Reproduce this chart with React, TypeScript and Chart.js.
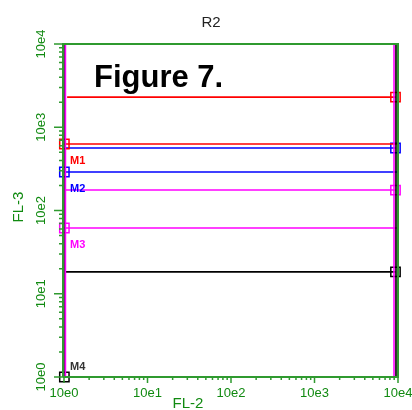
import React, { useEffect, useRef } from "react";
import { Chart, registerables } from "chart.js";

Chart.register(...registerables);

// Axis decades (FL-2 / FL-3 log scales)
const decadeValues = [1, 10, 100, 1000, 10000];
const tickLabels = ["10e0", "10e1", "10e2", "10e3", "10e4"];

// Markers (FL-3 ranges)
const markerNames = ["M1", "M2", "M3", "M4"];
const markerColors = ["#ff0000", "#0000ff", "#ff00ff", "#000000"];
const markerLabelColors = ["#ff0000", "#0000ff", "#ff00ff", "#333333"];
const markerUpper = [2300, 563, 176, 18.3];
const markerLower = [629, 290, 61.6, 1];

// FL-2 extents of the gate lines
const upperLineFrom = [1.09, 1.05, 1.05, 1.05];
const upperLineTo = [9330, 9330, 9330, 9330];
const lowerLineFrom = [1.01, 1.01, 1.01, 1.01];
const lowerLineTo = [9700, 9700, 9700, 9700];

// Vertical gate lines (FL-2 values)
const verticalX = [1.04, 8960, 1, 9460];
const verticalColors = ["#ff00ff", "#ff00ff", "#000000", "#000000"];

const GREEN_LINE = "#2f9a2f";
const GREEN_TEXT = "#118a11";

export default function App() {
  const ref = useRef<HTMLCanvasElement>(null);

  useEffect(() => {
    const canvas = ref.current!;
    const datasets: any[] = [];

    verticalX.forEach((x, i) => {
      datasets.push({
        label: "v" + i,
        data: [
          { x, y: 1 },
          { x, y: 10000 },
        ],
        borderColor: verticalColors[i],
        borderWidth: 1.6,
        pointRadius: 0,
        showLine: true,
        clip: false,
      });
    });

    markerNames.forEach((name, i) => {
      datasets.push({
        label: name + " upper",
        data: [
          { x: upperLineFrom[i], y: markerUpper[i] },
          { x: upperLineTo[i], y: markerUpper[i] },
        ],
        borderColor: markerColors[i],
        borderWidth: 1.6,
        pointStyle: "rect",
        pointRadius: [0, 6.6],
        pointBorderColor: markerColors[i],
        pointBackgroundColor: "rgba(0,0,0,0)",
        pointBorderWidth: 1.5,
        showLine: true,
        clip: false,
      });
      datasets.push({
        label: name + " lower",
        data: [
          { x: lowerLineFrom[i], y: markerLower[i] },
          { x: lowerLineTo[i], y: markerLower[i] },
        ],
        borderColor: markerColors[i],
        borderWidth: 1.6,
        pointStyle: "rect",
        pointRadius: [6.6, 0],
        pointBorderColor: markerColors[i],
        pointBackgroundColor: "rgba(0,0,0,0)",
        pointBorderWidth: 1.5,
        showLine: true,
        clip: false,
      });
    });

    const decorations = {
      id: "decorations",
      afterDraw(chart: any) {
        const ctx = chart.ctx as CanvasRenderingContext2D;
        const area = chart.chartArea;
        const xs = chart.scales.x;
        const ys = chart.scales.y;
        ctx.save();

        // frame
        ctx.strokeStyle = GREEN_LINE;
        ctx.lineWidth = 2;
        ctx.beginPath();
        ctx.moveTo(area.left - 1, area.bottom);
        ctx.lineTo(area.left - 1, area.top);
        ctx.lineTo(area.right, area.top);
        ctx.lineTo(area.right, area.bottom);
        ctx.lineTo(area.left - 1, area.bottom);
        ctx.stroke();

        // ticks
        ctx.lineWidth = 1.5;
        ctx.beginPath();
        for (let d = 0; d < 4; d++) {
          for (let m = 1; m <= 9; m++) {
            const v = m * Math.pow(10, d);
            const py = ys.getPixelForValue(v);
            const lenY = m === 1 ? 9 : 4;
            ctx.moveTo(area.left - 1, py);
            ctx.lineTo(area.left - 1 - lenY, py);
            const px = xs.getPixelForValue(v);
            const lenX = m === 1 ? 6 : 3;
            ctx.moveTo(px, area.bottom);
            ctx.lineTo(px, area.bottom + lenX);
          }
        }
        const topY = ys.getPixelForValue(10000);
        ctx.moveTo(area.left - 1, topY);
        ctx.lineTo(area.left - 10, topY);
        const rightX = xs.getPixelForValue(10000);
        ctx.moveTo(rightX, area.bottom);
        ctx.lineTo(rightX, area.bottom + 6);
        ctx.stroke();

        // tick labels
        ctx.fillStyle = GREEN_TEXT;
        ctx.font = "13px Arial";
        ctx.textAlign = "center";
        ctx.textBaseline = "middle";
        decadeValues.forEach((v, i) => {
          const px = xs.getPixelForValue(v);
          ctx.fillText(tickLabels[i], px, 393);
          const py = ys.getPixelForValue(v);
          ctx.save();
          ctx.translate(41, py);
          ctx.rotate(-Math.PI / 2);
          ctx.fillText(tickLabels[i], 0, 0);
          ctx.restore();
        });

        // axis titles
        ctx.font = "15px Arial";
        ctx.fillText("FL-2", 188, 404);
        ctx.save();
        ctx.translate(19, 207);
        ctx.rotate(-Math.PI / 2);
        ctx.fillText("FL-3", 0, 0);
        ctx.restore();

        // title
        ctx.fillStyle = "#222222";
        ctx.font = "15px Arial";
        ctx.fillText("R2", 211, 23);

        // Figure caption
        ctx.fillStyle = "#000000";
        ctx.font = "bold 31px Arial";
        ctx.textAlign = "left";
        ctx.textBaseline = "alphabetic";
        ctx.fillText("Figure 7.", 94, 87);

        // marker labels
        ctx.font = "bold 11px Arial";
        markerNames.forEach((name, i) => {
          let py = ys.getPixelForValue(markerLower[i]) + 20;
          if (py > area.bottom - 7) py = area.bottom - 7;
          ctx.fillStyle = markerLabelColors[i];
          ctx.fillText(name, area.left + 6, py);
        });

        ctx.restore();
      },
    };

    const chart = new Chart(canvas, {
      type: "scatter",
      data: { datasets },
      options: {
        responsive: false,
        animation: false,
        devicePixelRatio: 1,
        layout: { padding: { left: 64, top: 44, right: 14, bottom: 33 } },
        scales: {
          x: { type: "logarithmic", min: 1, max: 10000, display: false },
          y: { type: "logarithmic", min: 1, max: 10000, display: false },
        },
        plugins: {
          legend: { display: false },
          tooltip: { enabled: false },
        },
      },
      plugins: [decorations],
    });

    return () => chart.destroy();
  }, []);

  return (
    <div style={{ position: "fixed", left: 0, top: 0, width: 412, height: 410, background: "#ffffff" }}>
      <canvas ref={ref} width={412} height={410} style={{ display: "block" }} />
    </div>
  );
}
